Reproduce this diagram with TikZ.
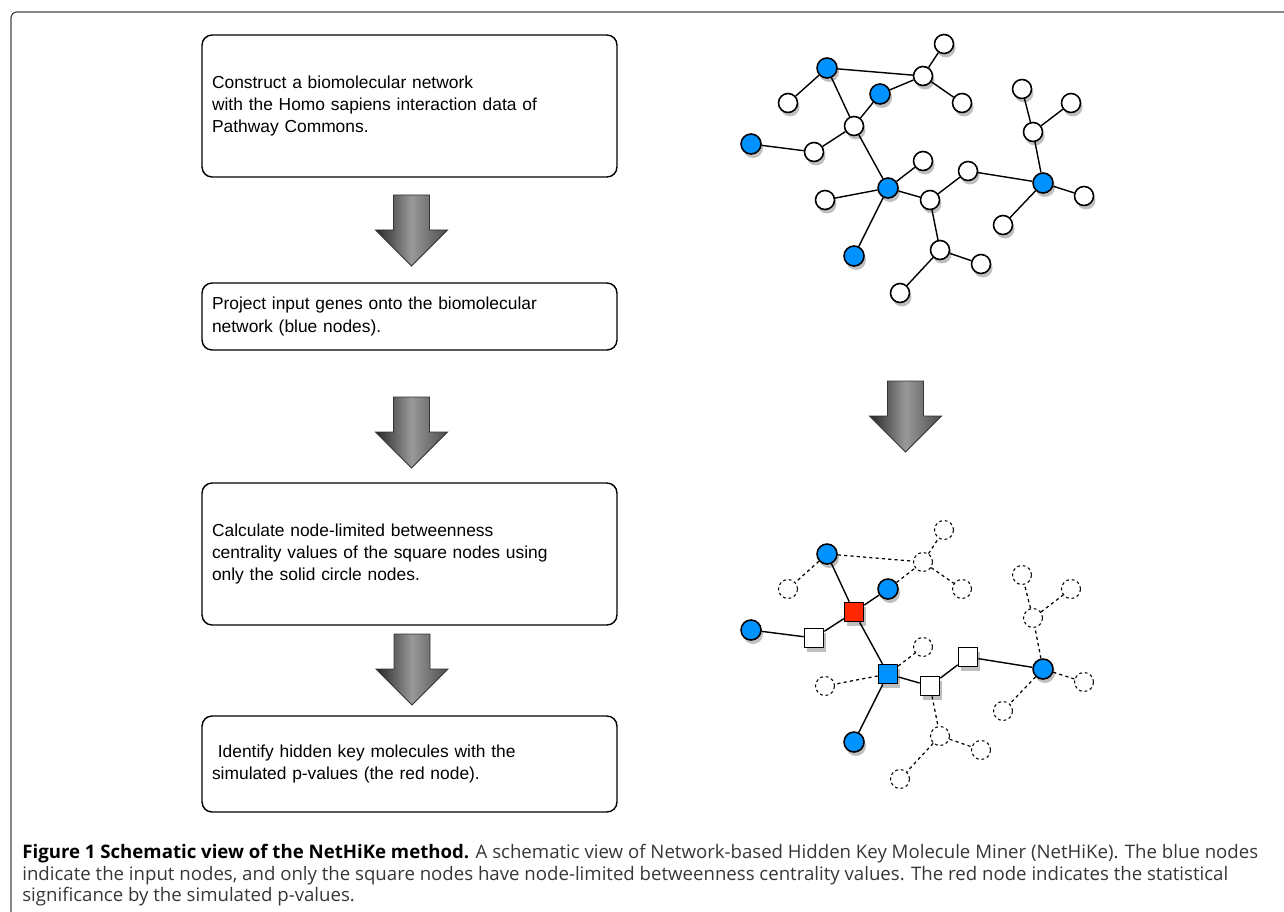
\documentclass[tikz,border=0pt]{standalone}
\usepackage{fontspec}
\setmainfont{Liberation Sans}
\newfontfamily\captionfont{Open Sans}
\usetikzlibrary{shadows}

\definecolor{netblue}{RGB}{0,146,255}
\definecolor{netred}{RGB}{255,38,0}
\definecolor{framegray}{RGB}{70,70,70}
\definecolor{captiongray}{RGB}{55,55,55}

\begin{document}
\begin{tikzpicture}[x=0.02cm,y=-0.02cm,
    nodeshadow/.style={drop shadow={shadow xshift=0.04cm,shadow yshift=-0.08cm,opacity=0.25,fill=black}},
    gene/.style={circle,draw,line width=0.9pt,fill=white,minimum size=0.38cm,inner sep=0pt,nodeshadow},
    input gene/.style={gene,fill=netblue,minimum size=0.40cm},
    hidden gene/.style={circle,draw,line width=0.6pt,dash pattern=on 1.6pt off 1.6pt,minimum size=0.38cm,inner sep=0pt},
    bc gene/.style={rectangle,draw,line width=0.9pt,fill=white,minimum size=0.38cm,inner sep=0pt,nodeshadow},
    bc input/.style={bc gene,fill=netblue},
    key gene/.style={bc gene,fill=netred},
    link/.style={line width=0.8pt},
    hidden link/.style={line width=0.7pt,dash pattern=on 1.8pt off 1.8pt},
    flowbox/.style={draw,line width=0.8pt,rounded corners=0.2cm,text width=7.9cm,inner xsep=0.2cm,align=left,font=\fontsize{9.9}{12.6}\selectfont},
    bigarrow/.style={draw=black!80,line width=0.5pt,left color=black!85,right color=black!70,middle color=black!40}
]
    \useasboundingbox (0,0) rectangle (1284,912);

    % Figure frame
    \draw[framegray,line width=0.7pt,rounded corners=0.12cm] (11,912) -- (11,12) -- (1284,12);

    % Workflow boxes
    \node[flowbox,minimum height=2.84cm] (construct) at (409.5,106) {Construct a biomolecular network\\with the Homo sapiens interaction data of\\Pathway Commons.};
    \node[flowbox,minimum height=1.34cm] (project) at (409.5,316.5) {Project input genes onto the biomolecular\\network (blue nodes).};
    \node[flowbox,minimum height=2.84cm] (calculate) at (409.5,554) {Calculate node-limited betweenness\\centrality values of the square nodes using\\only the solid circle nodes.};
    \node[flowbox,minimum height=1.92cm] (identify) at (409.5,764) {\ Identify hidden key molecules with the\\simulated p-values (the red node).};

    % Shaded block arrows
    \foreach \cx/\ty in {411.5/195, 411.5/397, 412/634, 905.5/381}
        \draw[bigarrow] (\cx-18,\ty) -- (\cx+18,\ty) -- (\cx+18,\ty+35) -- (\cx+36,\ty+35)
            -- (\cx,\ty+71) -- (\cx-36,\ty+35) -- (\cx-18,\ty+35) -- cycle;

    % Biomolecular network with input genes
    \node[input gene] (a1) at (827,68) {};
    \node[gene] (a2) at (923,76) {};
    \node[gene] (a3) at (944,44) {};
    \node[gene] (a4) at (962,103) {};
    \node[input gene] (a5) at (880,94) {};
    \node[gene] (a6) at (788,103) {};
    \node[gene] (a7) at (854,126) {};
    \node[input gene] (a8) at (751,144) {};
    \node[gene] (a9) at (814,152) {};
    \node[input gene] (a10) at (888,188) {};
    \node[gene] (a11) at (923,161) {};
    \node[gene] (a12) at (825,200) {};
    \node[input gene] (a13) at (854,256) {};
    \node[gene] (a14) at (930,200) {};
    \node[gene] (a15) at (968,171) {};
    \node[input gene] (a16) at (1043,183) {};
    \node[gene] (a17) at (1084,196) {};
    \node[gene] (a18) at (1003,225) {};
    \node[gene] (a19) at (1033,132) {};
    \node[gene] (a20) at (1022,89) {};
    \node[gene] (a21) at (1071,103) {};
    \node[gene] (a22) at (940,250) {};
    \node[gene] (a23) at (981,264) {};
    \node[gene] (a24) at (900,293) {};

    \foreach \u/\v in {a1/a2, a1/a6, a1/a7, a5/a2, a2/a3, a2/a4, a5/a7, a7/a9, a9/a8, a7/a10,
                       a10/a11, a10/a12, a10/a13, a10/a14, a14/a15, a15/a16, a16/a17, a16/a18,
                       a16/a19, a19/a20, a19/a21, a14/a22, a22/a23, a22/a24}
        \draw[link] (\u) -- (\v);

    % Reduced network with betweenness nodes
    \node[input gene] (b1) at (827,554) {};
    \node[hidden gene] (b2) at (923,562) {};
    \node[hidden gene] (b3) at (944,530) {};
    \node[hidden gene] (b4) at (962,589) {};
    \node[input gene] (b5) at (888,589) {};
    \node[hidden gene] (b6) at (788,589) {};
    \node[key gene] (b7) at (854,612) {};
    \node[input gene] (b8) at (751,630) {};
    \node[bc gene] (b9) at (814,638) {};
    \node[bc input] (b10) at (888,674) {};
    \node[hidden gene] (b11) at (923,647) {};
    \node[hidden gene] (b12) at (825,686) {};
    \node[input gene] (b13) at (854,742) {};
    \node[bc gene] (b14) at (930,686) {};
    \node[bc gene] (b15) at (968,657) {};
    \node[input gene] (b16) at (1043,669) {};
    \node[hidden gene] (b17) at (1084,682) {};
    \node[hidden gene] (b18) at (1003,711) {};
    \node[hidden gene] (b19) at (1033,618) {};
    \node[hidden gene] (b20) at (1022,575) {};
    \node[hidden gene] (b21) at (1071,589) {};
    \node[hidden gene] (b22) at (940,736) {};
    \node[hidden gene] (b23) at (981,750) {};
    \node[hidden gene] (b24) at (900,779) {};

    \foreach \u/\v in {b1/b7, b5/b7, b7/b9, b9/b8, b7/b10, b10/b13, b10/b14, b14/b15, b15/b16}
        \draw[link] (\u) -- (\v);
    \foreach \u/\v in {b1/b2, b1/b6, b5/b2, b2/b3, b2/b4, b10/b11, b10/b12, b14/b22, b22/b23,
                       b22/b24, b16/b17, b16/b18, b16/b19, b19/b20, b19/b21}
        \draw[hidden link] (\u) -- (\v);

    % Caption
    \node[anchor=north west,inner sep=0pt,align=left,text=captiongray,
          font=\captionfont\fontsize{10.6}{12.2}\selectfont] (caption) at (22,844)
        {\textcolor{black}{\textbf{Figure 1 Schematic view of the NetHiKe method.}} A schematic view of Network-based Hidden Key Molecule Miner (NetHiKe). The blue nodes\\
         indicate the input nodes, and only the square nodes have node-limited betweenness centrality values. The red node indicates the statistical\\
         significance by the simulated p-values.};
\end{tikzpicture}
\end{document}
